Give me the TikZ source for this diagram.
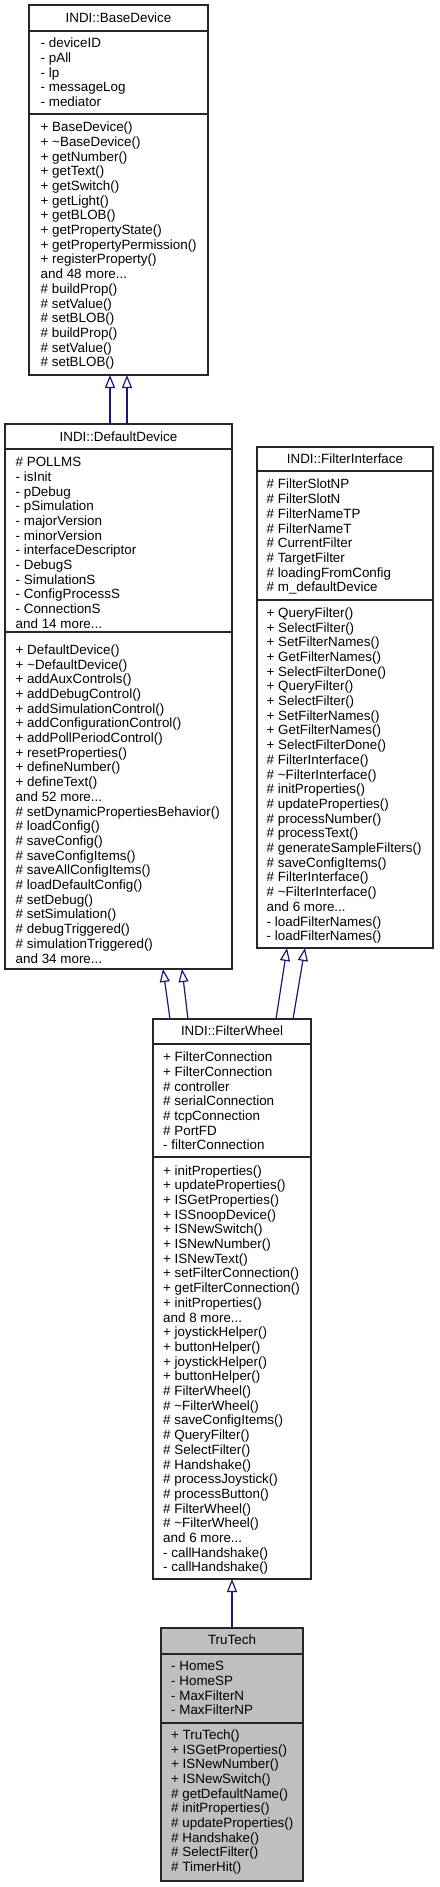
\documentclass[tikz,border=0pt]{standalone}
\usepackage{fontspec}
\setmainfont{Liberation Sans}
\usetikzlibrary{arrows.meta}
\definecolor{edgeblue}{HTML}{191970}
\definecolor{clsfill}{HTML}{BFBFBF}
\newcommand{\mfont}{\fontsize{13.4}{14.7}\selectfont}
\newcommand{\tl}{\textasciitilde}
\begin{document}
\begin{tikzpicture}[x=1pt,y=-1pt,
  clsbox/.style={draw=black!85, line width=1.1pt, fill=white, anchor=north west, inner sep=0pt, outer sep=0pt},
  clssep/.style={draw=black!85, line width=1.1pt},
  clstitle/.style={font=\mfont, inner sep=0pt},
  members/.style={font=\mfont, align=left, anchor=north west, inner sep=0pt},
  inherit/.style={draw=edgeblue, line width=1.2pt, -{Triangle[open, length=13pt, width=10pt, fill=white]}}]
\useasboundingbox (0,0) rectangle (439,1887);

% ---------- BaseDevice
\node[clsbox, minimum width=179pt, minimum height=370pt] (bd) at (29,5) {};
\draw[clssep] (29,31) -- (208,31);
\draw[clssep] (29,114) -- (208,114);
\node[clstitle] (bdT) at (118.5,18) {INDI::BaseDevice};
\node[members] (bdA) at (40.5,37.2) {\strut- deviceID\\- pAll\\- lp\\- messageLog\\- mediator};
\node[members] (bdO) at (40.5,121.2) {\strut+ BaseDevice()\\+ \tl BaseDevice()\\+ getNumber()\\+ getText()\\+ getSwitch()\\+ getLight()\\+ getBLOB()\\+ getPropertyState()\\+ getPropertyPermission()\\+ registerProperty()\\and 48 more...\\\# buildProp()\\\# setValue()\\\# setBLOB()\\\# buildProp()\\\# setValue()\\\# setBLOB()};

% ---------- DefaultDevice
\node[clsbox, minimum width=227pt, minimum height=545pt] (dd) at (5,424) {};
\draw[clssep] (5,449) -- (232,449);
\draw[clssep] (5,632) -- (232,632);
\node[clstitle] (ddT) at (118.5,436.7) {INDI::DefaultDevice};
\node[members] (ddA) at (15.5,456.2) {\strut\# POLLMS\\- isInit\\- pDebug\\- pSimulation\\- majorVersion\\- minorVersion\\- interfaceDescriptor\\- DebugS\\- SimulationS\\- ConfigProcessS\\- ConnectionS\\and 14 more...};
\node[members] (ddO) at (15.5,643.8) {\strut+ DefaultDevice()\\+ \tl DefaultDevice()\\+ addAuxControls()\\+ addDebugControl()\\+ addSimulationControl()\\+ addConfigurationControl()\\+ addPollPeriodControl()\\+ resetProperties()\\+ defineNumber()\\+ defineText()\\and 52 more...\\\# setDynamicPropertiesBehavior()\\\# loadConfig()\\\# saveConfig()\\\# saveConfigItems()\\\# saveAllConfigItems()\\\# loadDefaultConfig()\\\# setDebug()\\\# setSimulation()\\\# debugTriggered()\\\# simulationTriggered()\\and 34 more...};

% ---------- FilterInterface
\node[clsbox, minimum width=176pt, minimum height=501pt] (fi) at (257,447) {};
\draw[clssep] (257,471) -- (433,471);
\draw[clssep] (257,600) -- (433,600);
\node[clstitle] (fiT) at (345,459) {INDI::FilterInterface};
\node[members] (fiA) at (266.5,478.5) {\strut\# FilterSlotNP\\\# FilterSlotN\\\# FilterNameTP\\\# FilterNameT\\\# CurrentFilter\\\# TargetFilter\\\# loadingFromConfig\\\# m\_defaultDevice};
\node[members] (fiO) at (266.5,606.8) {\strut+ QueryFilter()\\+ SelectFilter()\\+ SetFilterNames()\\+ GetFilterNames()\\+ SelectFilterDone()\\+ QueryFilter()\\+ SelectFilter()\\+ SetFilterNames()\\+ GetFilterNames()\\+ SelectFilterDone()\\\# FilterInterface()\\\# \tl FilterInterface()\\\# initProperties()\\\# updateProperties()\\\# processNumber()\\\# processText()\\\# generateSampleFilters()\\\# saveConfigItems()\\\# FilterInterface()\\\# \tl FilterInterface()\\and 6 more...\\- loadFilterNames()\\- loadFilterNames()};

% ---------- FilterWheel
\node[clsbox, minimum width=158pt, minimum height=560pt] (fw) at (153,1019) {};
\draw[clssep] (153,1044) -- (311,1044);
\draw[clssep] (153,1157) -- (311,1157);
\node[clstitle] (fwT) at (232,1030.7) {INDI::FilterWheel};
\node[members] (fwA) at (163,1051.2) {\strut+ FilterConnection\\+ FilterConnection\\\# controller\\\# serialConnection\\\# tcpConnection\\\# PortFD\\- filterConnection};
\node[members] (fwO) at (163,1164.5) {\strut+ initProperties()\\+ updateProperties()\\+ ISGetProperties()\\+ ISSnoopDevice()\\+ ISNewSwitch()\\+ ISNewNumber()\\+ ISNewText()\\+ setFilterConnection()\\+ getFilterConnection()\\+ initProperties()\\and 8 more...\\+ joystickHelper()\\+ buttonHelper()\\+ joystickHelper()\\+ buttonHelper()\\\# FilterWheel()\\\# \tl FilterWheel()\\\# saveConfigItems()\\\# QueryFilter()\\\# SelectFilter()\\\# Handshake()\\\# processJoystick()\\\# processButton()\\\# FilterWheel()\\\# \tl FilterWheel()\\and 6 more...\\- callHandshake()\\- callHandshake()};

% ---------- TruTech
\node[clsbox, fill=clsfill, minimum width=142pt, minimum height=253pt] (tt) at (161,1628) {};
\draw[clssep] (161,1654) -- (303,1654);
\draw[clssep] (161,1723) -- (303,1723);
\node[clstitle] (ttT) at (232,1640) {TruTech};
\node[members] (ttA) at (171,1660.2) {\strut- HomeS\\- HomeSP\\- MaxFilterN\\- MaxFilterNP};
\node[members] (ttO) at (171,1728.8) {\strut+ TruTech()\\+ ISGetProperties()\\+ ISNewNumber()\\+ ISNewSwitch()\\\# getDefaultName()\\\# initProperties()\\\# updateProperties()\\\# Handshake()\\\# SelectFilter()\\\# TimerHit()};

% ---------- inheritance
\draw[inherit] ([xshift=-8.5pt]dd.north) -- ([xshift=-8.5pt]bd.south);
\draw[inherit] ([xshift=8.5pt]dd.north) -- ([xshift=8.5pt]bd.south);
\draw[inherit] ([xshift=-62pt]fw.north) -- ([xshift=44.5pt]dd.south);
\draw[inherit] ([xshift=-44pt]fw.north) -- ([xshift=63.5pt]dd.south);
\draw[inherit] ([xshift=44pt]fw.north) -- ([xshift=-58pt]fi.south);
\draw[inherit] ([xshift=61pt]fw.north) -- ([xshift=-40pt]fi.south);
\draw[inherit] (tt.north) -- (fw.south);
\end{tikzpicture}
\end{document}
